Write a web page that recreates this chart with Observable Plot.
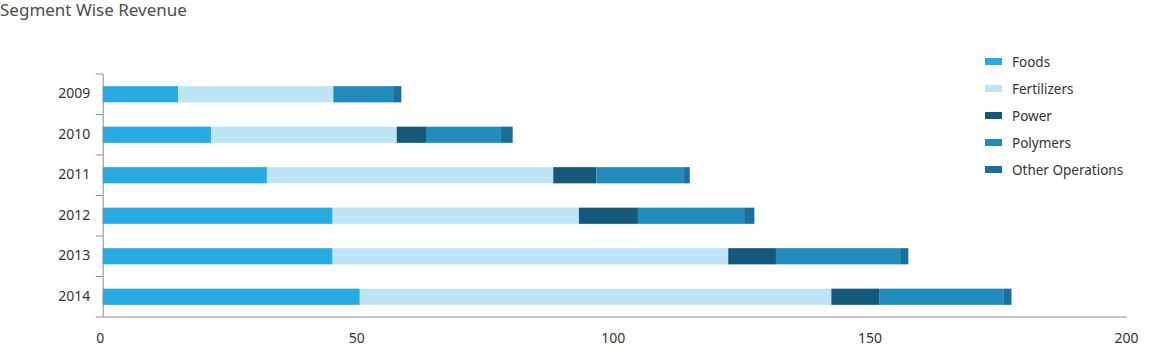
<!DOCTYPE html>
<html>
<head>
<meta charset="utf-8">
<script src="https://cdn.jsdelivr.net/npm/d3@7"></script>
<script src="https://cdn.jsdelivr.net/npm/@observablehq/plot@0.6"></script>
<style>
  html, body { margin: 0; padding: 0; background: #fff; }
  #wrap { position: relative; width: 1154px; height: 353px; font-family: "Noto Sans", sans-serif; }
  #title { height: 20px; line-height: 20px; font-size: 17px; color: #4d4d4d; white-space: nowrap; }
  #chart svg { display: block; }
  #legend { position: absolute; left: 985px; top: 48px; }
  .row { display: flex; align-items: center; height: 27.1px; font-size: 13.5px; color: #333; }
  .sw { width: 16.5px; height: 7px; margin-right: 10.5px; }
</style>
</head>
<body>
<div id="wrap">
  <div id="title">Segment Wise Revenue</div>
  <div id="chart"></div>
  <div id="legend"></div>
</div>
<script>
const years = ["2009", "2010", "2011", "2012", "2013", "2014"];
const segments = ["Foods", "Fertilizers", "Power", "Polymers", "Other Operations"];
const colors = ["#29abe2", "#bee5f5", "#14587a", "#218cbc", "#1a6f9b"];
const foods = [14.7, 21.1, 32.0, 44.8, 44.8, 50.1];
const fertilizers = [30.25, 36.2, 55.8, 48.0, 77.1, 91.9];
const power = [0, 5.7, 8.4, 11.5, 9.3, 9.3];
const polymers = [11.65, 14.6, 17.1, 20.7, 24.2, 24.2];
const otherOps = [1.6, 2.3, 1.1, 2.0, 1.6, 1.6];
const xTicks = [0, 50, 100, 150, 200];

const series = [foods, fertilizers, power, polymers, otherOps];
const data = [];
years.forEach((year, i) => {
  segments.forEach((segment, j) => {
    data.push({year, segment, value: series[j][i]});
  });
});

const chart = Plot.plot({
  width: 1154,
  height: 333,
  marginTop: 54,
  marginBottom: 36,
  marginLeft: 102.7,
  marginRight: 25,
  style: {fontFamily: "Noto Sans, sans-serif", fontSize: "14px", color: "#333", background: "transparent"},
  x: {domain: [0, 200]},
  y: {domain: years, paddingInner: 0.6, paddingOuter: 0.3, round: false},
  color: {domain: segments, range: colors},
  marks: [
    Plot.barX(data, {y: "year", x: "value", fill: "segment", order: segments}),
    Plot.ruleX([0], {stroke: "#8c8c8c", strokeWidth: 1}),
    Plot.axisX({ticks: xTicks, tickSize: 0, tickPadding: 16, label: null, dx: -3, fill: "#333"}),
    Plot.axisY({tickSize: 0, tickPadding: 13, label: null, dy: -1, fill: "#333"})
  ]
});
document.getElementById("chart").appendChild(chart);

// band boundary ticks and bottom axis line, from Plot's scales
const ys = chart.scale("y");
const xs = chart.scale("x");
const bw = ys.bandwidth;
const step = ys.step !== undefined ? ys.step : (ys.apply(years[1]) - ys.apply(years[0]));
const gap = (step - bw) / 2;
const x0 = xs.apply(0);
const bounds = years.map(d => ys.apply(d) - gap);
bounds.push(ys.apply(years[years.length - 1]) + bw + gap);
const svg = d3.select(chart);
const g = svg.append("g").attr("stroke", "#8c8c8c").attr("stroke-width", 1);
bounds.slice(0, -1).forEach(b => {
  g.append("line").attr("x1", x0 - 7).attr("x2", x0).attr("y1", b).attr("y2", b);
});
const yb = bounds[bounds.length - 1];
g.append("line").attr("x1", x0 - 7).attr("x2", xs.apply(200) - 2).attr("y1", yb).attr("y2", yb);

// legend
const legend = document.getElementById("legend");
segments.forEach((s, i) => {
  const row = document.createElement("div");
  row.className = "row";
  const sw = document.createElement("div");
  sw.className = "sw";
  sw.style.background = colors[i];
  const t = document.createElement("span");
  t.textContent = s;
  row.appendChild(sw);
  row.appendChild(t);
  legend.appendChild(row);
});
</script>
</body>
</html>
